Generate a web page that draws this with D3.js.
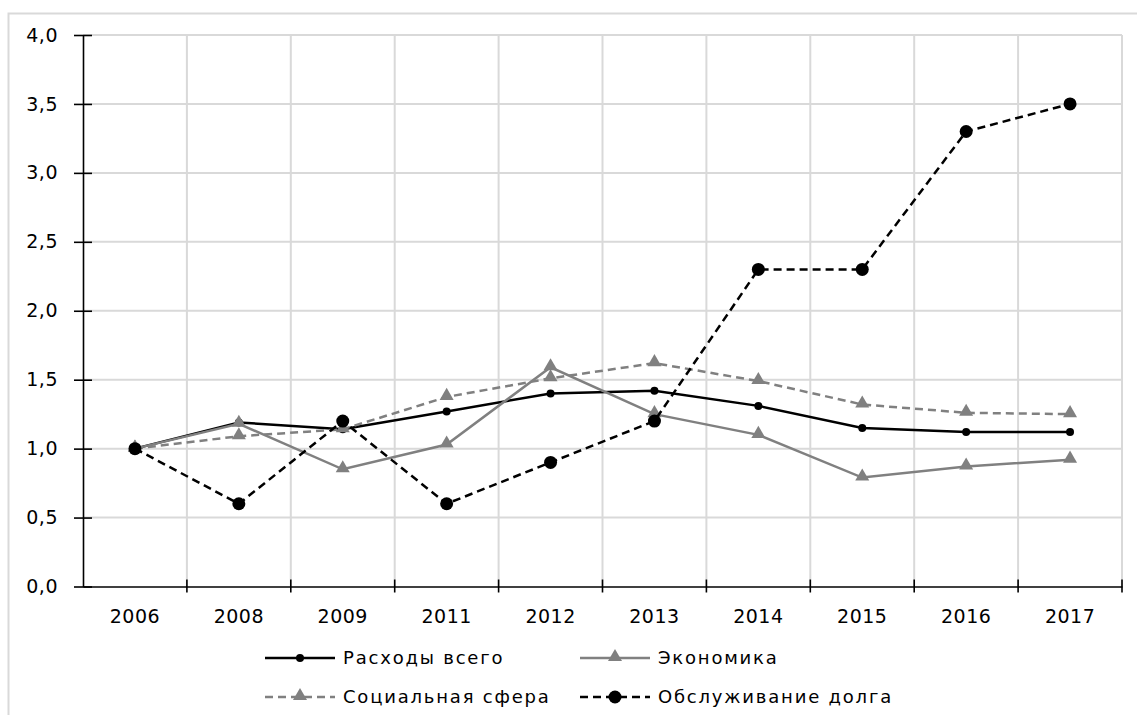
<!DOCTYPE html>
<html>
<head>
<meta charset="utf-8">
<script src="https://cdn.jsdelivr.net/npm/d3@7"></script>
<style>
  body { margin: 0; background: #fff; }
  text { font-family: "DejaVu Sans", Verdana, sans-serif; }
</style>
</head>
<body>
<div class="graph"></div>
<script>
// categories and series
var years = ["2006", "2008", "2009", "2011", "2012", "2013", "2014", "2015", "2016", "2017"];
var totalSpending = [1.00, 1.19, 1.14, 1.27, 1.40, 1.42, 1.31, 1.15, 1.12, 1.12];   // Расходы всего
var economy       = [1.00, 1.18, 0.85, 1.03, 1.59, 1.25, 1.10, 0.79, 0.87, 0.92];   // Экономика
var social        = [1.00, 1.09, 1.14, 1.375, 1.51, 1.62, 1.49, 1.32, 1.26, 1.25];  // Социальная сфера
var debtService   = [1.00, 0.60, 1.20, 0.60, 0.90, 1.20, 2.30, 2.30, 3.30, 3.50];   // Обслуживание долга
var yTicks = [0, 0.5, 1, 1.5, 2, 2.5, 3, 3.5, 4];

var W = 1137, H = 715;
var margin = {top: 35, right: 15, bottom: 129, left: 83};
var width = 1122 - margin.left;
var height = 586.5 - margin.top;

var svg = d3.select(".graph").append("svg")
    .attr("width", W)
    .attr("height", H);

// outer frame of the chart
svg.append("rect")
    .attr("x", 8.5).attr("y", 13.5)
    .attr("width", 1200).attr("height", 800)
    .attr("fill", "none").attr("stroke", "#d9d9d9").attr("stroke-width", 2);

var g = svg.append("g")
    .attr("transform", "translate(" + margin.left + "," + margin.top + ")");

var x = d3.scaleBand().domain(years).range([0, width]);
var y = d3.scaleLinear().domain([0, 4]).range([height, 0]);
var cx = function(d, i) { return x(years[i]) + x.bandwidth() / 2; };

// gridlines
g.append("g").selectAll("line").data(yTicks.slice(1)).enter().append("line")
    .attr("x1", 0).attr("x2", width)
    .attr("y1", function(d) { return y(d); }).attr("y2", function(d) { return y(d); })
    .attr("stroke", "#d9d9d9").attr("stroke-width", 2);

var bounds = years.slice(1).map(function(d) { return x(d); }).concat([width]);
g.append("g").selectAll("line").data(bounds).enter().append("line")
    .attr("x1", function(d) { return d; }).attr("x2", function(d) { return d; })
    .attr("y1", 0).attr("y2", height)
    .attr("stroke", "#d9d9d9").attr("stroke-width", 2);

// y axis
var yAxis = d3.axisLeft(y).tickValues(yTicks)
    .tickSizeInner(-9).tickSizeOuter(0).tickPadding(25)
    .tickFormat(function(d) { return d3.format(".1f")(d).replace(".", ","); });
var ya = g.append("g").call(yAxis);
ya.selectAll(".tick line").attr("x1", -9).attr("x2", 9).attr("stroke-width", 1.6);
ya.select(".domain").attr("stroke-width", 1.6);
ya.selectAll("text").attr("font-size", 19).attr("letter-spacing", 0.5).attr("fill", "#000");

// x axis: labels at centers, ticks at band boundaries
var xAxis = d3.axisBottom(x).tickSize(0).tickPadding(23);
var xa = g.append("g").attr("transform", "translate(0," + height + ")").call(xAxis);
xa.select(".domain").attr("stroke-width", 1.6);
xa.selectAll("text").attr("font-size", 19).attr("letter-spacing", 0.5).attr("fill", "#000");
xa.selectAll(".bound").data(bounds).enter().append("line")
    .attr("x1", function(d) { return d; }).attr("x2", function(d) { return d; })
    .attr("y1", -7).attr("y2", 6)
    .attr("stroke", "#000").attr("stroke-width", 1.6);

var series = [
  {name: "Расходы всего", values: totalSpending, color: "#000", dash: null, marker: "dot", r: 4},
  {name: "Экономика", values: economy, color: "#808080", dash: null, marker: "tri", r: 0},
  {name: "Социальная сфера", values: social, color: "#808080", dash: "8,5", marker: "tri", r: 0},
  {name: "Обслуживание долга", values: debtService, color: "#000", dash: "8,5", marker: "dot", r: 6.5}
];

var line = d3.line()
    .x(function(d, i) { return cx(d, i); })
    .y(function(d) { return y(d); });

var tri = d3.symbol().type(d3.symbolTriangle).size(85);

function drawMarkers(sel, s, px, py) {
  if (s.marker === "dot") {
    sel.append("circle").attr("cx", px).attr("cy", py).attr("r", s.r).attr("fill", s.color);
  } else {
    sel.append("path").attr("d", tri)
        .attr("transform", "translate(" + px + "," + (py - 1) + ")")
        .attr("fill", s.color);
  }
}

series.forEach(function(s) {
  g.append("path").datum(s.values)
      .attr("d", line)
      .attr("fill", "none")
      .attr("stroke", s.color)
      .attr("stroke-width", 2.5)
      .attr("stroke-dasharray", s.dash);
  var mg = g.append("g");
  s.values.forEach(function(v, i) { drawMarkers(mg, s, cx(v, i), y(v)); });
});

// legend
var legendPos = [[265, 658], [580, 658], [265, 697], [580, 697]];
series.forEach(function(s, i) {
  var lx = legendPos[i][0], ly = legendPos[i][1];
  var lg = svg.append("g");
  lg.append("line")
      .attr("x1", lx).attr("x2", lx + 70)
      .attr("y1", ly).attr("y2", ly)
      .attr("stroke", s.color).attr("stroke-width", 2.5)
      .attr("stroke-dasharray", s.dash);
  drawMarkers(lg, s, lx + 35, ly);
  lg.append("text")
      .attr("x", lx + 78).attr("y", ly)
      .attr("dy", "0.35em")
      .attr("font-size", 18)
      .attr("letter-spacing", 1.8)
      .text(s.name);
});
</script>
</body>
</html>
